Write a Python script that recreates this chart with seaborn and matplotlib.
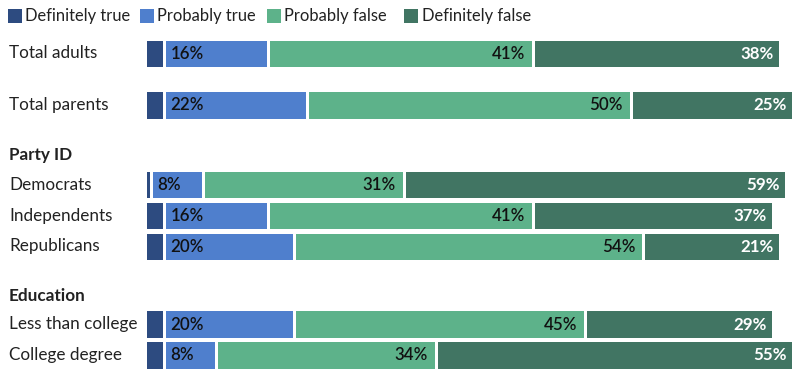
import numpy as np
import pandas as pd
import matplotlib
matplotlib.use("Agg")
import matplotlib.pyplot as plt
import seaborn as sns
from matplotlib.patches import Rectangle

# ---- data ----
categories = ["Total adults", "Total parents", "Democrats", "Independents",
              "Republicans", "Less than college", "College degree"]
definitely_true = [3, 3, 1, 3, 3, 3, 3]
probably_true = [16, 22, 8, 16, 20, 20, 8]
probably_false = [41, 50, 31, 41, 54, 45, 34]
definitely_false = [38, 25, 59, 37, 21, 29, 55]
series_names = ["Definitely true", "Probably true", "Probably false", "Definitely false"]
group_headers = ["Party ID", "Education"]

# ---- style / layout ----
colors = ["#2d4b80", "#4f7fcd", "#5db28a", "#417563"]
row_y = [53.5, 105, 184.5, 215.5, 246.5, 324, 355]      # pixel rows (layout)
header_y = [155, 296]
W, H = 806, 378
GAP_PX = 3.0
LW = GAP_PX * 72 / 100.0

sns.set_theme(style="white")
plt.rcParams["font.family"] = ["Lato", "DejaVu Sans"]

fig = plt.figure(figsize=(W / 100, H / 100), dpi=100)
fig.patch.set_facecolor("white")
ax = fig.add_axes([144.5 / W, 0, 648 / W, 1])
ov = fig.add_axes([0, 0, 1, 1])
ov.set_xlim(0, W)
ov.set_ylim(H, 0)
ov.axis("off")

df = pd.DataFrame({"category": categories, "y": row_y,
                   series_names[0]: definitely_true,
                   series_names[1]: probably_true,
                   series_names[2]: probably_false,
                   series_names[3]: definitely_false})

vals = np.array([definitely_true, probably_true, probably_false, definitely_false], dtype=float)
lefts = np.vstack([np.zeros(len(categories)), np.cumsum(vals, axis=0)[:-1]])

for i, name in enumerate(series_names):
    sns.barplot(data=df, x=name, y="y", orient="h", native_scale=True,
                left=lefts[i], color=colors[i], saturation=1,
                width=(26.5 + GAP_PX) / 31, errorbar=None,
                edgecolor="white", linewidth=LW, ax=ax)

ax.set_xlim(0, 100)
ax.set_ylim(H, 0)
ax.axis("off")

txt_col = "#222222"
fs_label = 12.3
fs_legend = 11.9
fs_val = 12.2

# value labels
for r in range(len(categories)):
    y = row_y[r] + 0.5
    ax.annotate(f"{probably_true[r]}%", (lefts[1][r], y), xytext=(6.5, 0),
                textcoords="offset pixels", ha="left", va="center",
                fontsize=fs_val, fontweight="semibold", color="#111111")
    ax.annotate(f"{probably_false[r]}%", (lefts[2][r] + probably_false[r], y), xytext=(-8, 0),
                textcoords="offset pixels", ha="right", va="center",
                fontsize=fs_val, fontweight="semibold", color="#111111")
    ax.annotate(f"{definitely_false[r]}%", (lefts[3][r] + definitely_false[r], y), xytext=(-6, 0),
                textcoords="offset pixels", ha="right", va="center",
                fontsize=fs_val, fontweight="bold", color="white")

# row labels
for r, c in enumerate(categories):
    ov.text(9, row_y[r], c, ha="left", va="center", fontsize=fs_label, color=txt_col)
for h, yy in zip(group_headers, header_y):
    ov.text(9, yy, h, ha="left", va="center", fontsize=fs_label, fontweight="bold", color=txt_col)

# legend
leg_x = [7.5, 139.5, 267, 404]
for i, name in enumerate(series_names):
    ov.add_patch(Rectangle((leg_x[i], 9), 14, 14, facecolor=colors[i], edgecolor="none"))
    ov.text(leg_x[i] + 17.5, 16, name, ha="left", va="center", fontsize=fs_legend, color=txt_col)

fig.savefig("out.png", dpi=100, facecolor="white")
